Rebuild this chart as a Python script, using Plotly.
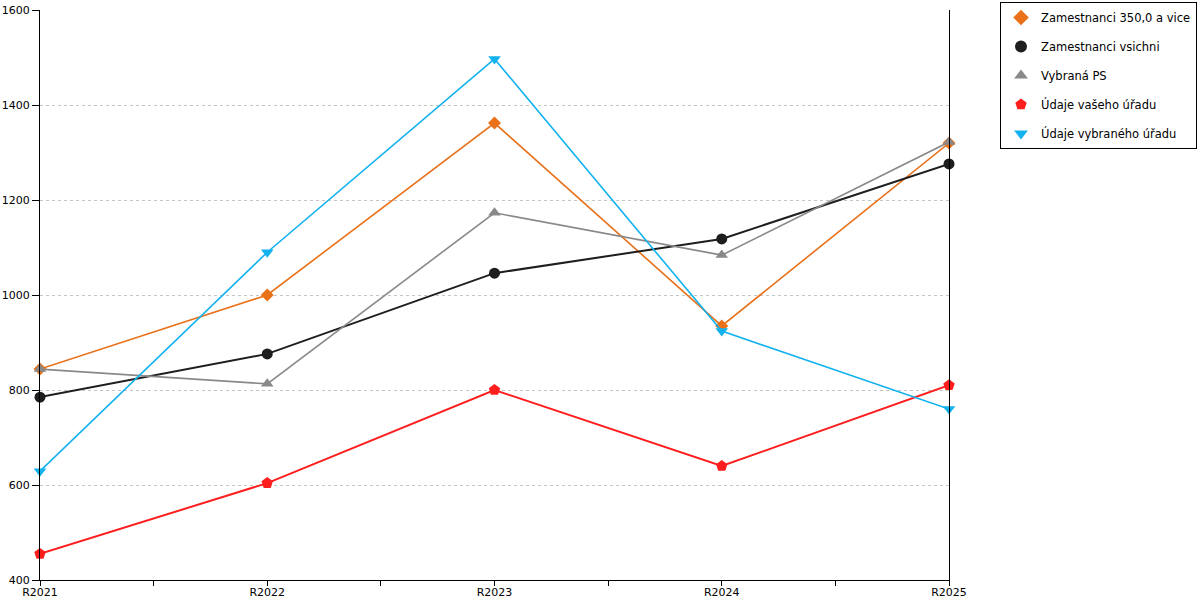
import plotly.graph_objects as go

categories = ["R2021", "R2022", "R2023", "R2024", "R2025"]
zam_350 = [844, 1000, 1362, 935, 1320]
zam_vsichni = [785, 876, 1046, 1118, 1276]
vybrana_ps = [844, 813, 1173, 1084, 1322]
udaje_vaseho = [455, 604, 800, 640, 810]
udaje_vybraneho = [629, 1090, 1497, 924, 760]

y_ticks = [400, 600, 800, 1000, 1200, 1400, 1600]

series = [
    ("Zamestnanci 350,0 a vice", zam_350, "#E8711A", "diamond", 10, 1.6),
    ("Zamestnanci vsichni", zam_vsichni, "#1E1E1E", "circle", 11, 2),
    ("Vybraná PS", vybrana_ps, "#898989", "triangle-up", 11, 1.6),
    ("Údaje vašeho úřadu", udaje_vaseho, "#FF1E1E", "pentagon", 12, 2),
    ("Údaje vybraného úřadu", udaje_vybraneho, "#12B2EE", "triangle-down", 11, 1.6),
]

x_idx = list(range(len(categories)))

fig = go.Figure()
for name, vals, color, sym, size, lw in series:
    fig.add_trace(go.Scatter(
        x=x_idx, y=vals, mode="lines+markers", name=name,
        line=dict(color=color, width=lw),
        marker=dict(symbol=sym, size=size, color=color),
        showlegend=False, cliponaxis=False,
    ))
for name, vals, color, sym, size, lw in series:
    fig.add_trace(go.Scatter(
        x=[None], y=[None], mode="markers", name=name,
        marker=dict(symbol=sym, size=size - 1, color=color),
        legendgroup=name, showlegend=True,
    ))

tickvals = []
ticktext = []
for i, c in enumerate(categories):
    tickvals.append(i)
    ticktext.append(c)
    if i < len(categories) - 1:
        tickvals.append(i + 0.5)
        ticktext.append("")

W, H = 1200, 600
fig.update_layout(
    width=W, height=H,
    margin=dict(l=40, r=251, t=10, b=20, autoexpand=False),
    paper_bgcolor="white", plot_bgcolor="white",
    font=dict(family="DejaVu Sans", size=11, color="#000000"),
    xaxis=dict(
        range=[0, len(categories) - 1], automargin=False,
        tickmode="array", tickvals=tickvals, ticktext=ticktext,
        showgrid=False, zeroline=False,
        showline=True, linecolor="black", linewidth=1,
        ticks="outside", ticklen=5, tickcolor="black",
        ticklabelstandoff=-3,
        tickfont=dict(size=11),
    ),
    yaxis=dict(
        range=[400, 1600], tickvals=y_ticks, automargin=False,
        showgrid=True, gridcolor="#C4C4C4", griddash="dot", gridwidth=1,
        zeroline=False,
        showline=True, linecolor="black", linewidth=1, mirror=True,
        ticks="outside", ticklen=7, tickcolor="black",
        tickfont=dict(size=11),
    ),
    legend=dict(
        xref="container", yref="container",
        x=1000 / W, y=1 - 2 / H, xanchor="left", yanchor="top",
        bordercolor="black", borderwidth=1, bgcolor="white",
        font=dict(size=11.5, family="DejaVu Sans"),
        tracegroupgap=10, itemsizing="constant", itemwidth=30,
    ),
)

fig.write_html(
    "out.html",
    config={"displayModeBar": False},
    post_script="document.body.style.margin='0';document.body.style.overflow='hidden';",
)
